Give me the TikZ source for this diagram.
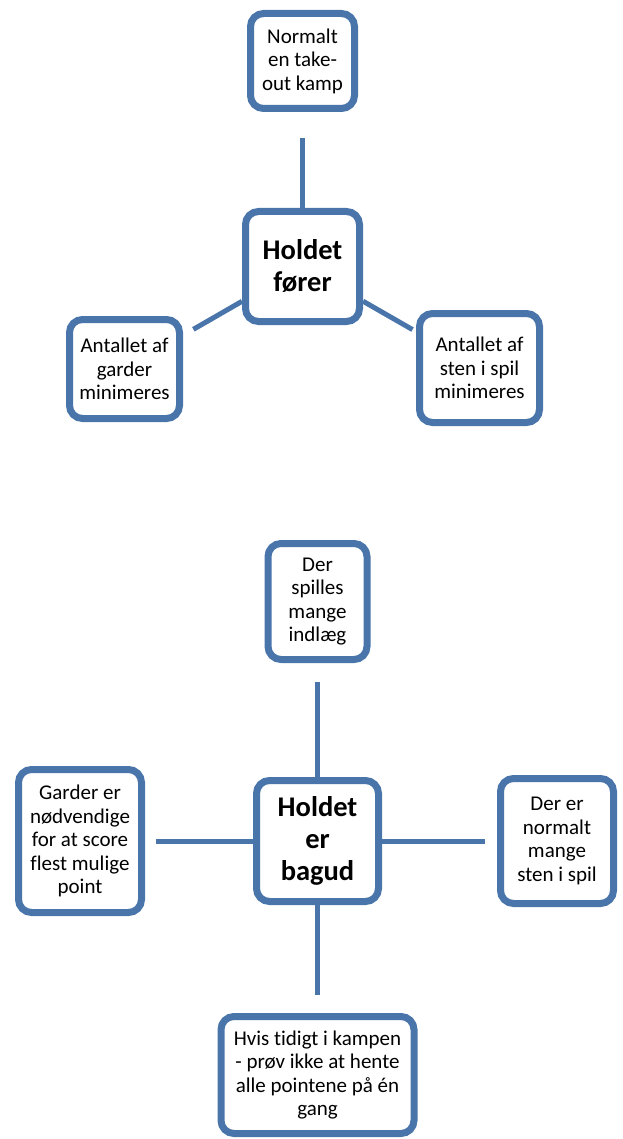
\documentclass[tikz,border=0pt]{standalone}
\usepackage{fontspec}
\setmainfont[Ligatures={NoCommon}]{Carlito}
\usetikzlibrary{shadows}
\definecolor{boxblue}{RGB}{74,117,170}
\tikzset{
  box/.style={draw=boxblue, line width=7pt, rounded corners=13pt, fill=white,
    align=center, inner sep=0pt, font=\fontsize{21}{23.5}\selectfont,
    drop shadow={opacity=0.25, shadow xshift=1.5pt, shadow yshift=-3pt}},
  hub/.style={box, font=\bfseries\fontsize{28.5}{32}\selectfont},
  conn/.style={draw=boxblue, line width=5pt}
}
\begin{document}
\begin{tikzpicture}[x=1pt,y=-1pt]
\useasboundingbox (0,0) rectangle (622,1139);
% top diagram
\node[hub, minimum width=114pt, minimum height=110pt] (c1) at (302.5,266.5) {Holdet\\fører};
\node[box, minimum width=104pt, minimum height=95pt] (n1) at (302.5,61) {Normalt\\en take-\\out kamp};
\node[box, minimum width=110pt, minimum height=99pt] (l1) at (124.5,369) {Antallet af\\garder\\minimeres};
\node[box, minimum width=120pt, minimum height=109pt] (r1) at (479.5,368) {Antallet af\\sten i spil\\minimeres};
% bottom diagram
\node[hub, minimum width=122pt, minimum height=121pt] (c2) at (317.5,841) {Holdet\\er\\bagud};
\node[box, minimum width=99pt, minimum height=116pt] (n2) at (317.5,601.5) {Der\\spilles\\mange\\indlæg};
\node[box, minimum width=123pt, minimum height=143pt] (l2) at (80,841) {Garder er\\nødvendige\\for at score\\flest mulige\\point};
\node[box, minimum width=113pt, minimum height=125pt] (r2) at (557,841) {Der er\\normalt\\mange\\sten i spil};
\node[box, minimum width=193pt, minimum height=117pt] (b2) at (317.5,1075) {Hvis tidigt i kampen\\- prøv ikke at hente\\alle pointene på én\\gang};
% connectors
\draw[conn, shorten >=26.5pt] (c1.north) -- (n1.south);
\draw[conn, shorten >=12pt] (c1) -- (l1);
\draw[conn, shorten >=4pt] (c1) -- (r1);
\draw[conn, shorten >=18.5pt] (c2.north) -- (n2.south);
\draw[conn, shorten >=10.5pt] (c2.west) -- (l2.east);
\draw[conn, shorten >=12.5pt] (c2.east) -- (r2.west);
\draw[conn, shorten >=18.5pt] (c2.south) -- (b2.north);
\end{tikzpicture}
\end{document}
